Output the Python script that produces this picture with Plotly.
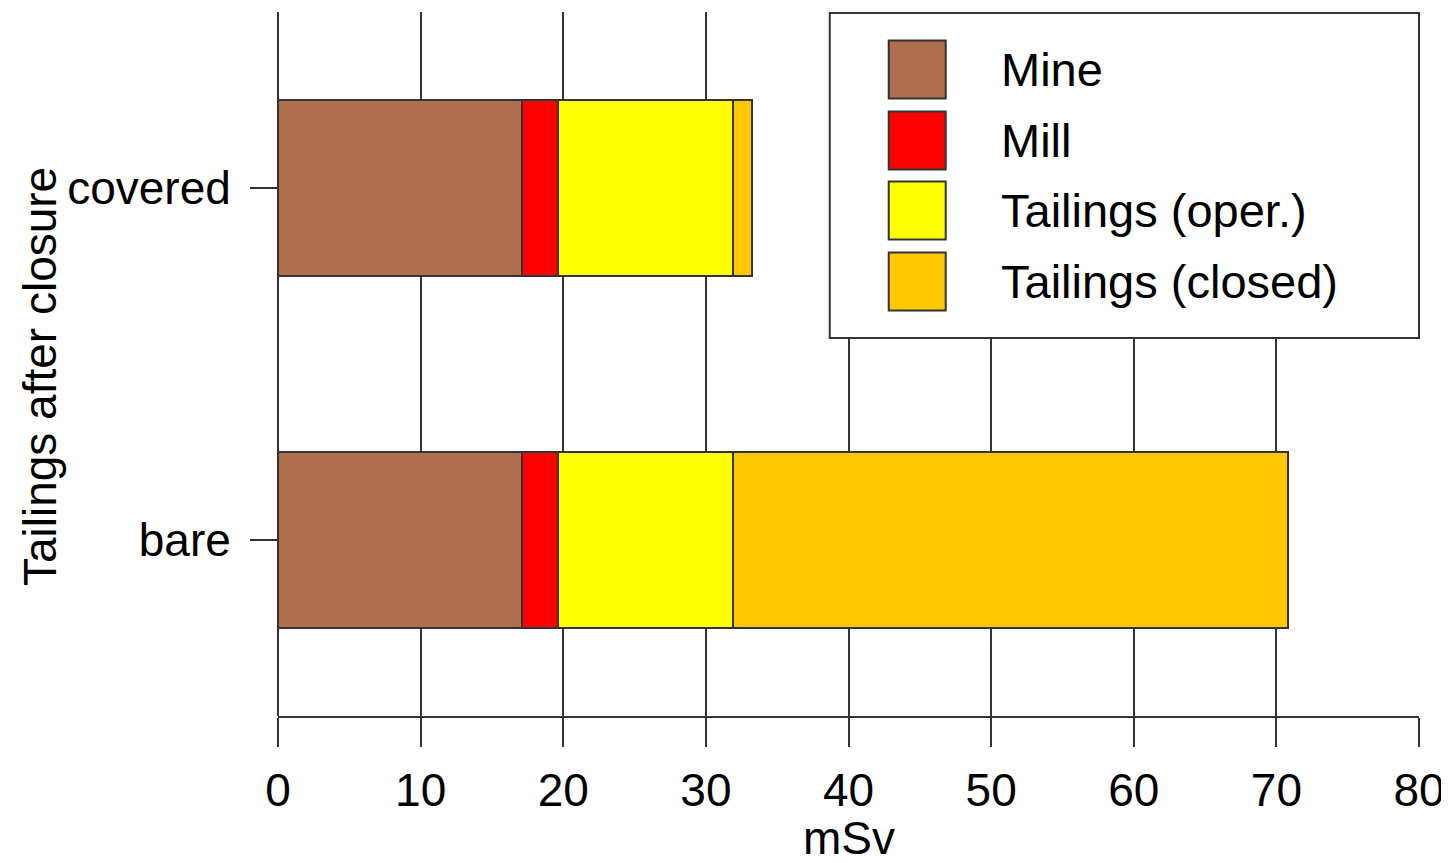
import plotly.graph_objects as go

categories = ["bare", "covered"]
series_names = ["Mine", "Mill", "Tailings (oper.)", "Tailings (closed)"]
mine = [17.1, 17.1]
mill = [2.56, 2.56]
tail_oper = [12.27, 12.27]
tail_closed = [38.9, 1.29]
colors = ["#AF6F4F", "#FF0000", "#FFFF00", "#FFC800"]
x_ticks = [0, 10, 20, 30, 40, 50, 60, 70, 80]
x_title = "mSv"
y_title = "Tailings after closure"

values = [mine, mill, tail_oper, tail_closed]

FONT = "Liberation Sans, Arial, sans-serif"
LINE = "#333333"
OFF = 8  # page body margin
W, H = 1449 - OFF, 863 - OFF
# plot area in screen pixels
SX0, SX1, SY0, SY1 = 278, 1419.5, 12, 716
L, R = SX0 - OFF, W - (SX1 - OFF)
T, B = SY0 - OFF, H - (SY1 - OFF)

fig = go.Figure()
for name, vals, col in zip(series_names, values, colors):
    fig.add_trace(go.Bar(
        y=categories, x=vals, name=name, orientation="h", width=0.5,
        marker=dict(color=col, line=dict(color=LINE, width=2)),
        showlegend=False,
    ))

def px_x(p):
    return (p - SX0) / (SX1 - SX0)

def px_y(p):
    return (SY1 - p) / (SY1 - SY0)

shapes = []
annotations = []
shapes.append(dict(type="rect", xref="paper", yref="paper",
                   x0=px_x(830), x1=px_x(1419.5), y0=px_y(338), y1=px_y(13),
                   fillcolor="white", line=dict(color=LINE, width=2), layer="above"))
row_centers = [69.5, 140.5, 210.5, 281.5]
for name, col, yc in zip(series_names, colors, row_centers):
    shapes.append(dict(type="rect", xref="paper", yref="paper",
                       x0=px_x(889), x1=px_x(946), y0=px_y(yc + 29), y1=px_y(yc - 29),
                       fillcolor=col, line=dict(color=LINE, width=2), layer="above"))
    annotations.append(dict(text=name, xref="paper", yref="paper",
                            x=px_x(999), y=px_y(yc), xanchor="left", yanchor="middle",
                            showarrow=False, font=dict(family=FONT, size=47, color="black")))

annotations.append(dict(text=x_title, xref="paper", yref="paper",
                        x=px_x(849), y=px_y(838), xanchor="center", yanchor="middle",
                        showarrow=False, font=dict(family=FONT, size=46, color="black")))
annotations.append(dict(text=y_title, xref="paper", yref="paper",
                        x=px_x(40), y=px_y(377), xanchor="center", yanchor="middle",
                        textangle=-90, showarrow=False,
                        font=dict(family=FONT, size=46, color="black")))

fig.update_layout(
    width=W, height=H,
    margin=dict(l=L, r=R, t=T, b=B, pad=0),
    paper_bgcolor="white", plot_bgcolor="white",
    barmode="stack",
    shapes=shapes, annotations=annotations,
    font=dict(family=FONT, size=46, color="black"),
    xaxis=dict(range=[0, 80], tickvals=x_ticks, ticktext=[str(v) for v in x_ticks],
               showgrid=True, gridcolor=LINE, gridwidth=2,
               zeroline=True, zerolinecolor=LINE, zerolinewidth=2,
               showline=True, linecolor=LINE, linewidth=2,
               ticks="outside", ticklen=29, tickwidth=2, tickcolor=LINE,
               ticklabelstandoff=4,
               tickfont=dict(family=FONT, size=46, color="black")),
    yaxis=dict(range=[-0.5, 1.5], categoryorder="array", categoryarray=categories,
               showgrid=False, zeroline=False, showline=False,
               ticks="outside", ticklen=27, tickwidth=2, tickcolor=LINE,
               ticklabelstandoff=10,
               tickfont=dict(family=FONT, size=46, color="black")),
)

fig.write_html("out.html")
